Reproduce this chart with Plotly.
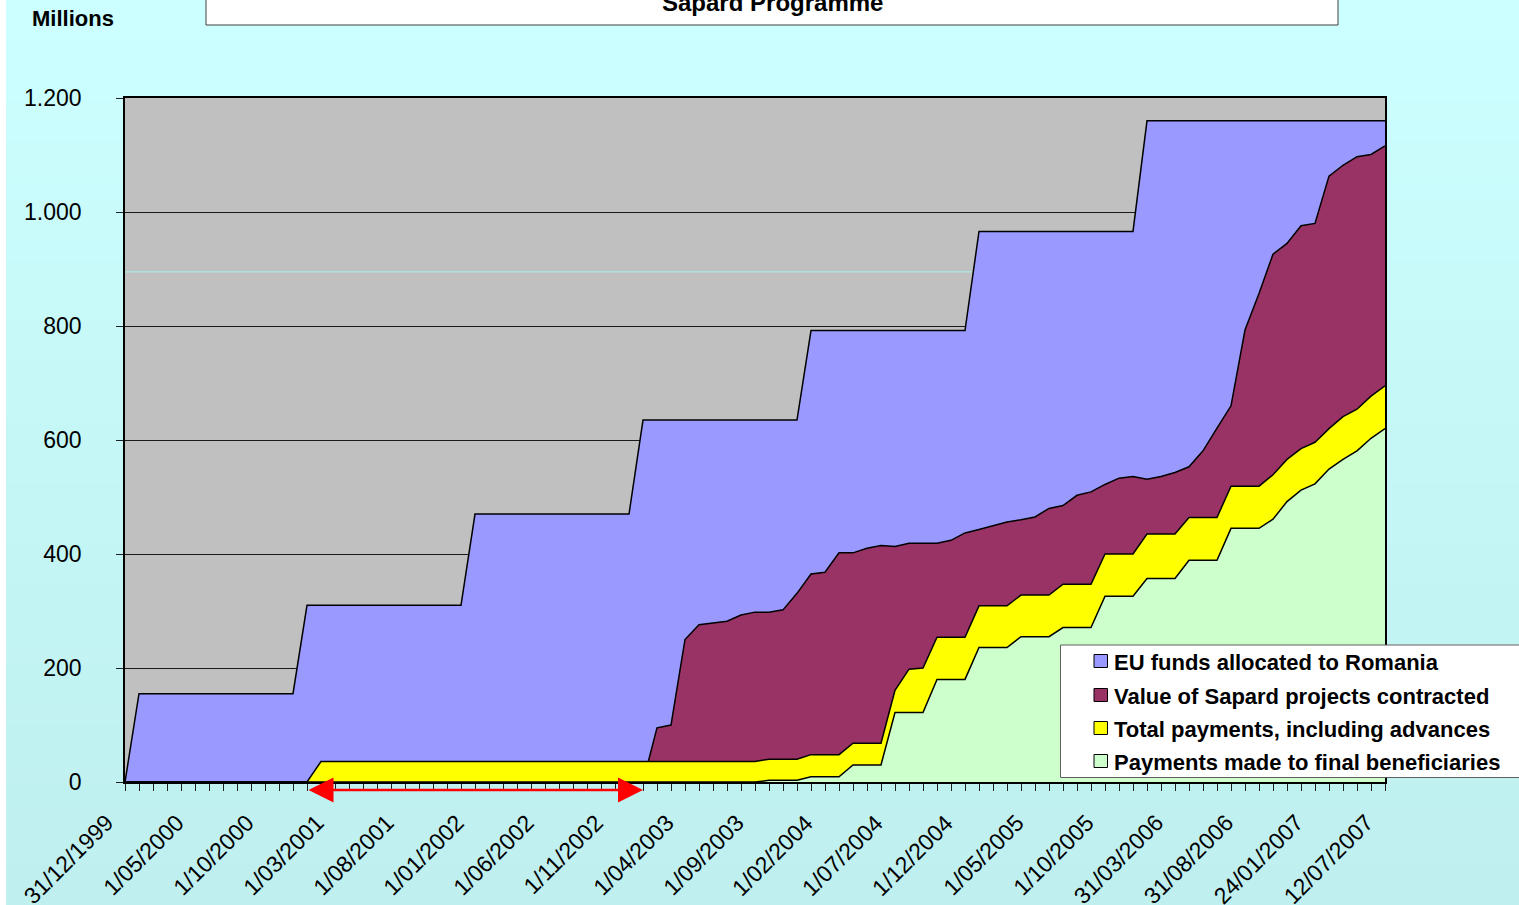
import plotly.graph_objects as go

OX = 6                      # page offset of the figure (left white strip)
W, H = 1519 - OX, 905
L, R, T, B = 125 - OX, 134, 98, 123
PW, PH = W - L - R, H - T - B

tick_labels = ["31/12/1999", "1/05/2000", "1/10/2000", "1/03/2001", "1/08/2001",
               "1/01/2002", "1/06/2002", "1/11/2002", "1/04/2003", "1/09/2003",
               "1/02/2004", "1/07/2004", "1/12/2004", "1/05/2005", "1/10/2005",
               "31/03/2006", "31/08/2006", "24/01/2007", "12/07/2007"]

series_names = ["EU funds allocated to Romania",
                "Value of Sapard projects contracted",
                "Total payments, including advances",
                "Payments made to final beneficiaries"]

eu_funds = [0,
            155, 155, 155, 155, 155, 155, 155, 155, 155, 155, 155, 155,
            310, 310, 310, 310, 310, 310, 310, 310, 310, 310, 310, 310,
            470, 470, 470, 470, 470, 470, 470, 470, 470, 470, 470, 470,
            635, 635, 635, 635, 635, 635, 635, 635, 635, 635, 635, 635,
            792, 792, 792, 792, 792, 792, 792, 792, 792, 792, 792, 792,
            966, 966, 966, 966, 966, 966, 966, 966, 966, 966, 966, 966,
            1160, 1160, 1160, 1160, 1160, 1160, 1160, 1160, 1160,
            1160, 1160, 1160, 1160, 1160, 1160, 1160, 1160, 1160]

contracted = [0, 0, 0, 0, 0, 0, 0, 0, 0, 0,
              0, 0, 0, 0, 0, 0, 0, 0, 0, 0,
              0, 0, 0, 0, 0, 0, 0, 0, 0, 0,
              0, 0, 0, 0, 0, 0, 0, 0,
              95, 100, 250, 276, 279, 282, 293, 298, 298, 302,
              331, 365, 368, 402, 402, 410, 415, 413, 419, 419,
              419, 424, 437, 443, 449, 456, 460, 465, 480, 485,
              503, 509, 522, 533, 536, 531, 536, 543, 553, 581,
              621, 660, 793, 857, 926, 945, 976, 980, 1063, 1082,
              1097, 1101, 1116]

total_payments = [0, 0, 0, 0, 0, 0, 0, 0, 0, 0,
                  0, 0, 0, 0, 36, 36, 36, 36, 36, 36,
                  36, 36, 36, 36, 36, 36, 36, 36, 36, 36,
                  36, 36, 36, 36, 36, 36, 36, 36, 36, 36,
                  36, 36, 36, 36, 36, 36, 40, 40, 40, 48,
                  48, 48, 68, 68, 68, 161, 198, 200, 254, 254,
                  254, 309, 309, 309, 328, 328, 328, 347, 347, 347,
                  400, 400, 400, 435, 435, 435, 464, 464, 464, 519,
                  519, 519, 539, 566, 585, 596, 620, 641, 654, 677,
                  695]

final_benef = [0, 0, 0, 0, 0, 0, 0, 0, 0, 0,
               0, 0, 0, 0, 0, 0, 0, 0, 0, 0,
               0, 0, 0, 0, 0, 0, 0, 0, 0, 0,
               0, 0, 0, 0, 0, 0, 0, 0, 0, 0,
               0, 0, 0, 0, 0, 0, 3, 3, 3, 9,
               9, 9, 30, 30, 30, 122, 122, 122, 180, 180,
               180, 236, 236, 236, 255, 255, 255, 271, 271, 271,
               326, 326, 326, 357, 357, 357, 389, 389, 389, 445,
               445, 445, 461, 492, 512, 523, 549, 566, 581, 603,
               620]

y_ticks = [0, 200, 400, 600, 800, 1000, 1200]
y_tick_text = ["0", "200", "400", "600", "800", "1.000", "1.200"]

# period marked by the red arrow (category positions)
arrow_start, arrow_end = 13, 37

colors = ["#9999FF", "#993366", "#FFFF00", "#CCFFCC"]
FONT = "Liberation Sans, Arial, sans-serif"

idx = list(range(len(eu_funds)))
label_pos = [5 * k for k in range(len(tick_labels))]

fig = go.Figure()
for name, vals, col in zip(series_names, [eu_funds, contracted, total_payments, final_benef], colors):
    fig.add_trace(go.Scatter(x=idx, y=vals, name=name, mode="lines", fill="tozeroy",
                             fillcolor=col, line=dict(color="black", width=1.5),
                             showlegend=False, hoverinfo="x+y"))


def px(X):
    """screen x pixel -> paper coordinate"""
    return (X - 125) / PW


def py(Y):
    """screen y pixel -> paper coordinate"""
    return (782 - Y) / PH


shapes = []
# background gradient of the page
n = 45
top_c = (0xCC, 0xFF, 0xFF)
bot_c = (0xBF, 0xEF, 0xEF)
for k in range(n):
    f = k / (n - 1)
    c = tuple(round(top_c[j] + (bot_c[j] - top_c[j]) * f) for j in range(3))
    y0 = k * H / n
    y1 = (k + 1) * H / n + 1
    shapes.append(dict(type="rect", xref="paper", yref="paper", x0=px(-10), x1=px(W + 20),
                       y0=py(y1), y1=py(y0), line=dict(width=0),
                       fillcolor="rgb(%d,%d,%d)" % c, layer="below"))
# plot area
shapes.append(dict(type="rect", xref="paper", yref="paper", x0=0, x1=1, y0=0, y1=1,
                   line=dict(width=0), fillcolor="#C0C0C0", layer="below"))
# faint line artefact
shapes.append(dict(type="line", xref="x", yref="y", x0=0, x1=60.5, y0=895, y1=895,
                   line=dict(color="#A8F0F0", width=1), layer="below"))
# title box
shapes.append(dict(type="rect", xref="paper", yref="paper", x0=px(206), x1=px(1338),
                   y0=py(25), y1=py(-20), line=dict(color="#404040", width=1),
                   fillcolor="white", layer="above"))
# legend box
shapes.append(dict(type="rect", xref="paper", yref="paper", x0=px(1060.5), x1=px(1540),
                   y0=py(777.5), y1=py(645), line=dict(color="#606060", width=1),
                   fillcolor="white", layer="above"))

annotations = []
row_y = [661, 695, 728, 761]
for name, col, ry in zip(series_names, colors, row_y):
    shapes.append(dict(type="rect", xref="paper", yref="paper", x0=px(1094), x1=px(1107.5),
                       y0=py(ry + 6.5), y1=py(ry - 6.5), line=dict(color="black", width=1),
                       fillcolor=col, layer="above"))
    annotations.append(dict(text="<b>%s</b>" % name, xref="paper", yref="paper", x=px(1112),
                            y=py(ry + 1), xanchor="left", yanchor="middle", showarrow=False,
                            font=dict(family=FONT, size=22, color="black")))

# rotated category labels of the x axis
for pos, lab in zip(label_pos, tick_labels):
    annotations.append(dict(text=lab, xref="x", yref="paper", x=pos, y=py(808), xshift=-5,
                            xanchor="right", yanchor="top", textangle=-45, showarrow=False,
                            borderpad=0, font=dict(family=FONT, size=23, color="black")))

annotations.append(dict(text="<b>Sapard Programme</b>", xref="paper", yref="paper", x=px(773),
                        y=py(2), xanchor="center", yanchor="middle", showarrow=False,
                        font=dict(family=FONT, size=24, color="black")))
annotations.append(dict(text="<b>Millions</b>", xref="paper", yref="paper", x=px(30),
                        y=py(18), xanchor="left", yanchor="middle", showarrow=False,
                        font=dict(family=FONT, size=22, color="black")))
# red double arrow under the axis
annotations.append(dict(text="", x=arrow_end, y=py(790), ax=arrow_start, ay=0, xref="x", yref="paper",
                        axref="x", ayref="pixel", showarrow=True, arrowside="end+start",
                        arrowhead=2, arrowsize=2, arrowwidth=2.5, arrowcolor="#FF0000",
                        startarrowhead=2, startarrowsize=2))

fig.update_layout(
    width=W, height=H, autosize=False,
    margin=dict(l=L, r=R, t=T, b=B, pad=0, autoexpand=False),
    paper_bgcolor="#C6F6F6", plot_bgcolor="#C0C0C0",
    showlegend=False,
    shapes=shapes, annotations=annotations,
    font=dict(family=FONT, color="black"),
)
fig.update_xaxes(range=[0, len(eu_funds) - 1], tickmode="array", automargin=False,
                 tickvals=label_pos, showticklabels=False,
                 ticks="outside", ticklen=7, tickcolor="#202020", tickwidth=1,
                 minor=dict(ticks="outside", dtick=1, ticklen=7, tickcolor="#202020", tickwidth=1),
                 showgrid=False, zeroline=False, showline=True, linecolor="black", linewidth=2,
                 mirror=True)
fig.update_yaxes(range=[0, 1200], tickmode="array", tickvals=y_ticks, ticktext=y_tick_text,
                 automargin=False,
                 ticks="outside", ticklen=7, tickcolor="#202020",
                 showgrid=True, gridcolor="#1a1a1a", gridwidth=1, zeroline=False,
                 showline=True, linecolor="black", linewidth=1.5, mirror=True,
                 ticklabelstandoff=30, tickfont=dict(family=FONT, size=23, color="black"))

fig.write_html("out.html",
               post_script="document.body.style.margin='0px 0px 0px %dpx';"
                           "document.body.style.overflow='hidden';" % OX)
